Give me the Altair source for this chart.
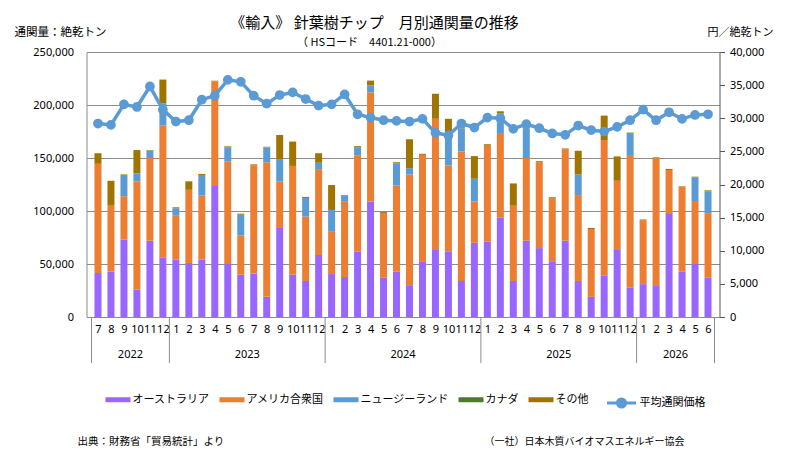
import json
import altair as alt
import pandas as pd

# ---------------- data ----------------
months = ["7", "8", "9", "10", "11", "12",
          "1", "2", "3", "4", "5", "6", "7", "8", "9", "10", "11", "12",
          "1", "2", "3", "4", "5", "6", "7", "8", "9", "10", "11", "12",
          "1", "2", "3", "4", "5", "6", "7", "8", "9", "10", "11", "12",
          "1", "2", "3", "4", "5", "6"]
years = ["2022", "2023", "2024", "2025", "2026"]
year_first = [0, 6, 18, 30, 42]
year_last = [6, 18, 30, 42, 48]

series_names = ["オーストラリア", "アメリカ合衆国", "ニュージーランド", "カナダ", "その他"]
series_colors = ["#9966FF", "#ED7D31", "#5B9BD5", "#4E7A2E", "#A07400"]

australia = [41500, 43000, 73000, 26000, 72000, 56000,
             54000, 51000, 54000, 123600, 50000, 40000, 41000, 19000, 84000, 40000, 34000, 58500,
             40500, 37700, 61600, 109000, 37000, 43000, 30000, 52000, 64000, 62000, 34000, 70000,
             71000, 94000, 34000, 72000, 65000, 52000, 72000, 34000, 19000, 39000, 64000, 28000,
             31000, 30000, 98000, 43000, 50000, 37000]
usa = [103000, 62000, 41000, 102000, 78000, 124500,
       41500, 69000, 60500, 98600, 96500, 37000, 102000, 127000, 43700, 102500, 60700, 81000,
       40500, 71000, 91000, 103000, 61000, 81000, 104400, 101000, 123000, 81000, 122000, 39000,
       90600, 79600, 71000, 78000, 81000, 60000, 86000, 81000, 64000, 128000, 64500, 124000,
       60400, 120000, 40700, 79600, 59400, 61000]
new_zealand = [0, 0, 20000, 7500, 7000, 21000,
               7000, 0, 19500, 0, 13500, 19500, 0, 14000, 20700, 0, 17600, 6000,
               20000, 5700, 7600, 6600, 0, 21000, 6000, 0, 0, 30000, 22000, 21400,
               0, 18500, 0, 28000, 0, 0, 0, 19500, 0, 0, 0, 21500,
               0, 0, 0, 0, 22400, 20600]
canada = [0, 0, 0, 0, 0, 0,
          0, 0, 0, 0, 0, 0, 0, 0, 0, 0, 0, 0,
          0, 0, 0, 0, 0, 0, 0, 0, 0, 0, 0, 0,
          0, 0, 0, 0, 0, 0, 0, 0, 0, 0, 0, 0,
          0, 0, 0, 0, 0, 0]
others = [10000, 23500, 500, 22000, 500, 22500,
          1000, 8000, 1000, 700, 1000, 1000, 1000, 600, 23300, 23000, 1000, 9000,
          23500, 600, 1000, 4400, 1000, 1000, 27300, 1000, 23600, 14000, 1000, 21400,
          1400, 2000, 21000, 1000, 1000, 1000, 1000, 22300, 1000, 23000, 23000, 500,
          600, 600, 1000, 600, 600, 900]
price = [29200, 29000, 32100, 31700, 34800, 31300,
         29500, 29700, 32800, 33400, 35800, 35500, 33400, 32200, 33500, 33900, 32900, 31900,
         32100, 33600, 30600, 30100, 29700, 29600, 29500, 29900, 27800, 27400, 29200, 28600,
         30100, 30000, 28400, 29100, 28500, 27700, 27500, 28900, 28200, 28000, 28700, 29700,
         31300, 29700, 30900, 29900, 30500, 30600]
price_name = "平均通関価格"

# ---------------- tables ----------------
series_values = [australia, usa, new_zealand, canada, others]
rows = []
for s_i, (name, vals) in enumerate(zip(series_names, series_values)):
    for i, v in enumerate(vals):
        rows.append({"pos": i + 0.5, "series": name, "ord": s_i, "value": v})
df_bars = pd.DataFrame(rows)
df_price = pd.DataFrame({"pos": [i + 0.5 for i in range(len(price))],
                         "price": price, "label": price_name})
df_sep = pd.DataFrame({"pos": sorted(set(year_first + year_last))})
df_year = pd.DataFrame({"pos": [(a + b) / 2 for a, b in zip(year_first, year_last)],
                        "year": years})

W, H = 633, 265
JP = "Noto Sans CJK JP"
NUM = "Noto Sans"
GRID = "#8C8C8C"

label_expr = json.dumps(months) + "[floor(datum.value)]"
x_axis = alt.Axis(values=[i + 0.5 for i in range(48)], labelExpr=label_expr,
                  grid=False, ticks=False, tickSize=0, domainColor=GRID,
                  labelOverlap=False, labelFlush=False, labelBound=False,
                  labelSeparation=0, labelFont=NUM,
                  labelFontSize=11, labelColor="#000000", labelPadding=6,
                  title=None)
x_scale = alt.Scale(domain=[0, 48], nice=False, zero=False)

bars = alt.Chart(df_bars).mark_bar(size=7).encode(
    x=alt.X("pos:Q", scale=x_scale, axis=x_axis),
    y=alt.Y("value:Q", stack="zero",
            scale=alt.Scale(domain=[0, 250000], nice=False),
            axis=alt.Axis(values=[0, 50000, 100000, 150000, 200000, 250000], format=",d",
                          grid=True, gridColor=GRID, ticks=False, tickSize=0,
                          domainColor=GRID, labelPadding=13, labelFont=NUM,
                          labelFontSize=11, labelColor="#000000", title=None)),
    color=alt.Color("series:N",
                    scale=alt.Scale(domain=series_names, range=series_colors),
                    legend=alt.Legend(orient="none", legendX=19, legendY=335,
                                      direction="horizontal", title=None,
                                      symbolType="M-1,-0.2H1V0.2H-1Z", symbolSize=625,
                                      symbolStrokeWidth=0, labelFont=JP, labelFontSize=11,
                                      labelColor="#000000", labelOffset=2, columnPadding=10,
                                      padding=0, labelLimit=300)),
    order=alt.Order("ord:Q", sort="ascending"),
)

line = alt.Chart(df_price).mark_line(
    strokeWidth=3.5,
    point=alt.OverlayMarkDef(filled=True, size=60, color="#5B9BD5"),
).encode(
    x=alt.X("pos:Q", scale=x_scale, axis=x_axis),
    y=alt.Y("price:Q", scale=alt.Scale(domain=[0, 40000], nice=False),
            axis=alt.Axis(orient="right", values=list(range(0, 40001, 5000)), format=",d",
                          grid=False, tickSize=5, tickColor="#595959", domainColor="#595959",
                          labelPadding=5, labelFont=NUM, labelFontSize=11,
                          labelColor="#000000", title=None)),
    stroke=alt.Stroke("label:N",
                      scale=alt.Scale(domain=[price_name], range=["#5B9BD5"]),
                      legend=alt.Legend(orient="none", legendX=519, legendY=335,
                                        title=None,
                                        symbolType="M-1,0H1M-0.28,0A0.28,0.28,0,1,1,0.28,0A0.28,0.28,0,1,1,-0.28,0",
                                        symbolSize=841, symbolStrokeWidth=3,
                                        symbolFillColor="#5B9BD5",
                                        labelFont=JP, labelFontSize=11,
                                        labelColor="#000000", labelOffset=2, padding=0)),
)

seps = alt.Chart(df_sep).mark_rule(color=GRID, strokeWidth=1).encode(
    x=alt.X("pos:Q", scale=x_scale, axis=x_axis), y=alt.value(H), y2=alt.value(H + 46))

year_text = alt.Chart(df_year).mark_text(font=NUM, fontSize=11, color="#000000",
                                         baseline="middle").encode(
    x=alt.X("pos:Q", scale=x_scale, axis=x_axis), y=alt.value(H + 38), text="year:N")


def label(text, x, y, size, align="left", baseline="middle"):
    return alt.Chart(pd.DataFrame({"t": [text]})).mark_text(
        font=JP, fontSize=size, color="#000000", align=align, baseline=baseline
    ).encode(x=alt.value(x), y=alt.value(y), text="t:N")


title = label("《輸入》 針葉樹チップ　月別通関量の推移", 288, -29, 15, align="center")
subtitle = label("（ HSコード　4401.21-000）", 283, -9, 11, align="center")
left_title = label("通関量：絶乾トン", -72, -19, 11.5)
right_title = label("円／絶乾トン", 621, -19, 11)
src = label("出典：財務省「貿易統計」より", -9, 390, 10.5)
org = label("（一社）日本木質バイオマスエネルギー協会", 398, 390, 10)

chart = alt.layer(
    bars, line, seps, year_text, title, subtitle, left_title, right_title, src, org
).resolve_scale(
    y="independent"
).properties(
    width=W, height=H,
    autosize=alt.AutoSizeParams(type="none"),
    padding={"left": 78.5, "top": 44, "right": 66, "bottom": 130},
    background="#FFFFFF",
).configure_view(
    stroke=None
).configure_axisX(
    labelOverlap=False, labelSeparation=0
)

chart.save("out.html", embed_options={"renderer": "svg", "actions": False})
